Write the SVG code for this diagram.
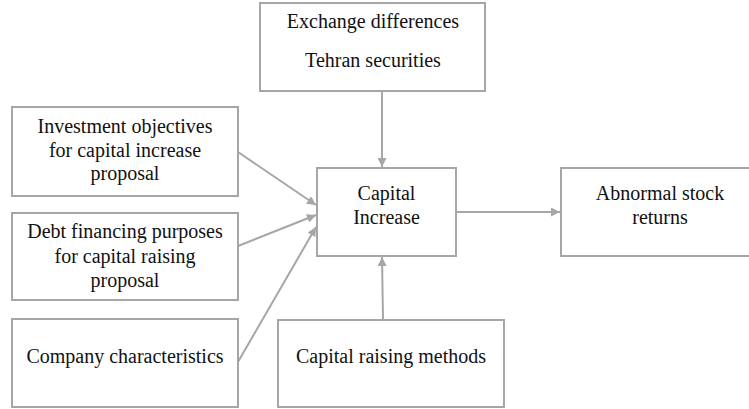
<svg xmlns="http://www.w3.org/2000/svg" width="749" height="409" viewBox="0 0 749 409">
<style>
.box{fill:#fff;stroke:#a6a6a6;stroke-width:2}
.lbl{font-family:'Liberation Serif','Times New Roman',serif;font-size:20px;fill:#111;text-anchor:middle}
.edge{stroke:#a6a6a6;stroke-width:2;fill:none;marker-end:url(#ah)}
</style>
<defs>
<marker id="ah" viewBox="0 0 10 10" refX="10" refY="5" markerWidth="5" markerHeight="4.5" markerUnits="strokeWidth" orient="auto">
<path d="M0,0 L10,5 L0,10 z" fill="#a6a6a6"/>
</marker>
</defs>
<rect width="749" height="409" fill="#fff"/>
<g id="n-exchange"><rect class="box" x="260" y="3" width="225" height="88"/>
<text class="lbl" x="373" y="28">Exchange differences</text>
<text class="lbl" x="373" y="67">Tehran securities</text></g>
<g id="n-investment"><rect class="box" x="12" y="107" width="226" height="89"/>
<text class="lbl" x="125" y="133">Investment objectives</text>
<text class="lbl" x="125" y="157">for capital increase</text>
<text class="lbl" x="125" y="180">proposal</text></g>
<g id="n-debt"><rect class="box" x="12" y="213" width="226" height="87"/>
<text class="lbl" x="125" y="238">Debt financing purposes</text>
<text class="lbl" x="125" y="263">for capital raising</text>
<text class="lbl" x="125" y="287">proposal</text></g>
<g id="n-company"><rect class="box" x="12" y="319" width="226" height="88"/>
<text class="lbl" x="125" y="363">Company characteristics</text></g>
<g id="n-methods"><rect class="box" x="278" y="320" width="226" height="87"/>
<text class="lbl" x="391" y="363">Capital raising methods</text></g>
<g id="n-capital"><rect class="box" x="317" y="168" width="139" height="88"/>
<text class="lbl" x="386.5" y="200">Capital</text>
<text class="lbl" x="386.5" y="224">Increase</text></g>
<g id="n-abnormal"><rect class="box" x="561" y="168" width="195" height="88"/>
<text class="lbl" x="660" y="200">Abnormal stock</text>
<text class="lbl" x="660" y="224">returns</text></g>
<g id="connectors">
<line class="edge" x1="382" y1="92" x2="382" y2="167"/>
<line class="edge" x1="383" y1="319" x2="382" y2="257"/>
<line class="edge" x1="457" y1="212" x2="560" y2="212"/>
<line class="edge" x1="238" y1="152" x2="316" y2="205"/>
<line class="edge" x1="238" y1="246" x2="316" y2="215"/>
<line class="edge" x1="238" y1="362" x2="316" y2="227"/>
</g>
</svg>
